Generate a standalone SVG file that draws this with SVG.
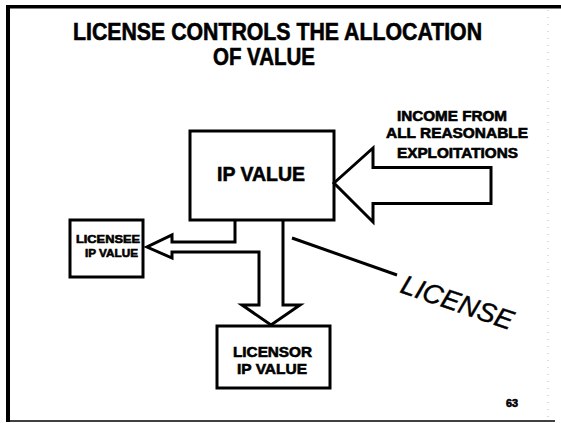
<svg xmlns="http://www.w3.org/2000/svg" width="561" height="423" viewBox="0 0 561 423">
<style>
  .t{font-family:"Liberation Sans",Arial,sans-serif;font-weight:bold;fill:#000;stroke:#000;stroke-width:0.6}
  .box{fill:#fff;stroke:#000;stroke-width:3}
  .ln{fill:none;stroke:#000;stroke-width:3;stroke-linejoin:miter}
</style>
<rect width="561" height="423" fill="#fff"/>
<g id="frame">
  <rect x="6" y="5" width="555" height="3.5" fill="#000"/>
  <rect x="6" y="5" width="4" height="417" fill="#000"/>
  <line x1="6" y1="421" x2="555" y2="421" stroke="#000" stroke-width="1.5"/>
  <line x1="548" y1="10" x2="548" y2="418" stroke="#bbb" stroke-width="1" stroke-dasharray="1 6"/>
</g>
<g id="title">
  <text class="t" x="73" y="40" font-size="24" textLength="409" lengthAdjust="spacingAndGlyphs">LICENSE CONTROLS THE ALLOCATION</text>
  <text class="t" x="213" y="65" font-size="24" textLength="102" lengthAdjust="spacingAndGlyphs">OF VALUE</text>
</g>
<g id="income">
  <text class="t" x="397" y="121" font-size="14" textLength="110" lengthAdjust="spacingAndGlyphs">INCOME FROM</text>
  <text class="t" x="386" y="138" font-size="14" textLength="142" lengthAdjust="spacingAndGlyphs">ALL REASONABLE</text>
  <text class="t" x="397" y="158" font-size="14" textLength="121" lengthAdjust="spacingAndGlyphs">EXPLOITATIONS</text>
</g>
<g id="ip-value">
  <rect class="box" x="190" y="131" width="144" height="89"/>
  <text class="t" x="217" y="181" font-size="21" textLength="88" lengthAdjust="spacingAndGlyphs">IP VALUE</text>
</g>
<g id="licensee">
  <rect class="box" x="70" y="220" width="73" height="57"/>
  <text class="t" x="76" y="243" font-size="11.5" textLength="64" lengthAdjust="spacingAndGlyphs">LICENSEE</text>
  <text class="t" x="85" y="257" font-size="11.5" textLength="53" lengthAdjust="spacingAndGlyphs">IP VALUE</text>
</g>
<g id="licensor">
  <rect class="box" x="217" y="326" width="113" height="62"/>
  <text class="t" x="233" y="357" font-size="15" textLength="79" lengthAdjust="spacingAndGlyphs">LICENSOR</text>
  <text class="t" x="237" y="374" font-size="15" textLength="70" lengthAdjust="spacingAndGlyphs">IP VALUE</text>
</g>
<g id="connectors">
  <polygon class="ln" fill="#fff" points="334,183 373,148 373,167.5 491,167.5 491,203.5 373,203.5 373,222"/>
  <path class="ln" d="M235,220 L235,242 L172,242 L172,235 L147,247 L172,258 L172,252 L259,252 L259,305 L242,305 L271,325 L300,305 L283,305 L283,220"/>
  <line x1="292" y1="238" x2="397" y2="275" stroke="#000" stroke-width="3"/>
</g>
<g id="license-label">
  <text x="399" y="292" font-family="'Liberation Sans',Arial,sans-serif" font-style="italic" font-size="27" fill="#000" stroke="#000" stroke-width="0.4" transform="rotate(19 399 292)" textLength="117" lengthAdjust="spacingAndGlyphs">LICENSE</text>
</g>
<g id="page">
  <text class="t" x="506" y="407" font-size="10" textLength="12" lengthAdjust="spacingAndGlyphs">63</text>
</g>
</svg>
